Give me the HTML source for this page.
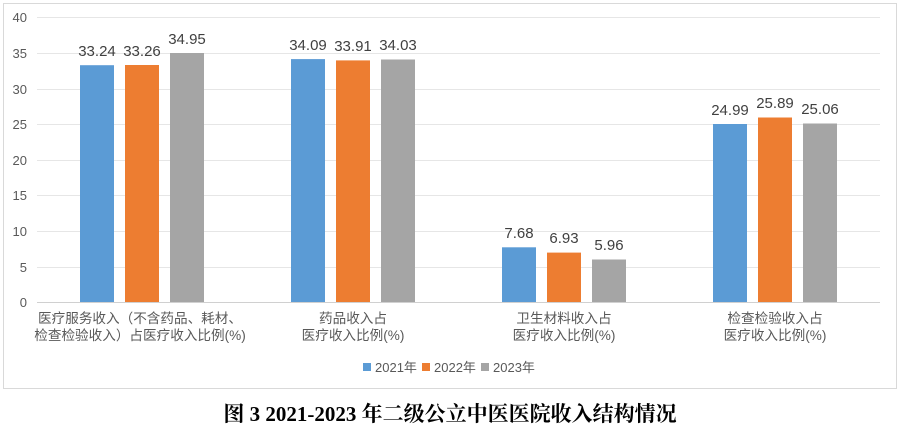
<!DOCTYPE html>
<html><head><meta charset="utf-8"><style>
body{margin:0;background:#fff;width:900px;height:434px;overflow:hidden}
svg text{font-family:"Liberation Sans","Noto Sans CJK SC",sans-serif}
</style></head><body>
<svg width="900" height="434" xmlns="http://www.w3.org/2000/svg">
<rect x="3.5" y="3.5" width="893" height="385" fill="#fff" stroke="#d9d9d9"/>
<g stroke="#e6e6e6" stroke-width="1">
<line x1="37" x2="880" y1="17.5" y2="17.5"/><line x1="37" x2="880" y1="53.5" y2="53.5"/>
<line x1="37" x2="880" y1="89.5" y2="89.5"/><line x1="37" x2="880" y1="124.5" y2="124.5"/>
<line x1="37" x2="880" y1="160.5" y2="160.5"/><line x1="37" x2="880" y1="195.5" y2="195.5"/>
<line x1="37" x2="880" y1="231.5" y2="231.5"/><line x1="37" x2="880" y1="267.5" y2="267.5"/>
</g>
<line x1="37" x2="880" y1="302.5" y2="302.5" stroke="#d0d0d0"/>
<g font-size="13" fill="#595959" text-anchor="end">
<text x="27" y="22">40</text><text x="27" y="58">35</text><text x="27" y="94">30</text>
<text x="27" y="129">25</text><text x="27" y="165">20</text><text x="27" y="200">15</text>
<text x="27" y="236">10</text><text x="27" y="272">5</text><text x="27" y="307">0</text>
</g>
<g>
<rect x="80" y="65.2" width="34" height="236.8" fill="#5b9bd5"/>
<rect x="125" y="65" width="34" height="237" fill="#ed7d31"/>
<rect x="170" y="53" width="34" height="249" fill="#a5a5a5"/>
<rect x="291" y="59.1" width="34" height="242.9" fill="#5b9bd5"/>
<rect x="336" y="60.4" width="34" height="241.6" fill="#ed7d31"/>
<rect x="381" y="59.5" width="34" height="242.5" fill="#a5a5a5"/>
<rect x="502" y="247.3" width="34" height="54.7" fill="#5b9bd5"/>
<rect x="547" y="252.6" width="34" height="49.4" fill="#ed7d31"/>
<rect x="592" y="259.5" width="34" height="42.5" fill="#a5a5a5"/>
<rect x="713" y="124" width="34" height="178" fill="#5b9bd5"/>
<rect x="758" y="117.5" width="34" height="184.5" fill="#ed7d31"/>
<rect x="803" y="123.5" width="34" height="178.5" fill="#a5a5a5"/>
</g>
<g font-size="15" fill="#404040" text-anchor="middle">
<text x="97" y="56">33.24</text><text x="142" y="56">33.26</text><text x="187" y="44">34.95</text>
<text x="308" y="50">34.09</text><text x="353" y="51">33.91</text><text x="398" y="50">34.03</text>
<text x="519" y="238">7.68</text><text x="564" y="243">6.93</text><text x="609" y="250">5.96</text>
<text x="730" y="115">24.99</text><text x="775" y="108">25.89</text><text x="820" y="114">25.06</text>
</g>
<g font-size="13.6" fill="#595959" text-anchor="middle">
<text x="140" y="323">医疗服务收入（不含药品、耗材、</text>
<text x="140" y="340">检查检验收入）占医疗收入比例(%)</text>
<text x="353" y="323">药品收入占</text><text x="353" y="340">医疗收入比例(%)</text>
<text x="564" y="323">卫生材料收入占</text><text x="564" y="340">医疗收入比例(%)</text>
<text x="775" y="323">检查检验收入占</text><text x="775" y="340">医疗收入比例(%)</text>
</g>
<g font-size="13" fill="#595959">
<rect x="363" y="363" width="8" height="8" fill="#5b9bd5"/><text x="375" y="372">2021年</text>
<rect x="422" y="363" width="8" height="8" fill="#ed7d31"/><text x="434" y="372">2022年</text>
<rect x="481" y="363" width="8" height="8" fill="#a5a5a5"/><text x="493" y="372">2023年</text>
</g>
<text x="450" y="421" text-anchor="middle" font-size="21" font-weight="bold" fill="#000" style="font-family:'Liberation Serif','Noto Serif CJK SC',serif">图 3 2021-2023 年二级公立中医医院收入结构情况</text>
</svg>
</body></html>
